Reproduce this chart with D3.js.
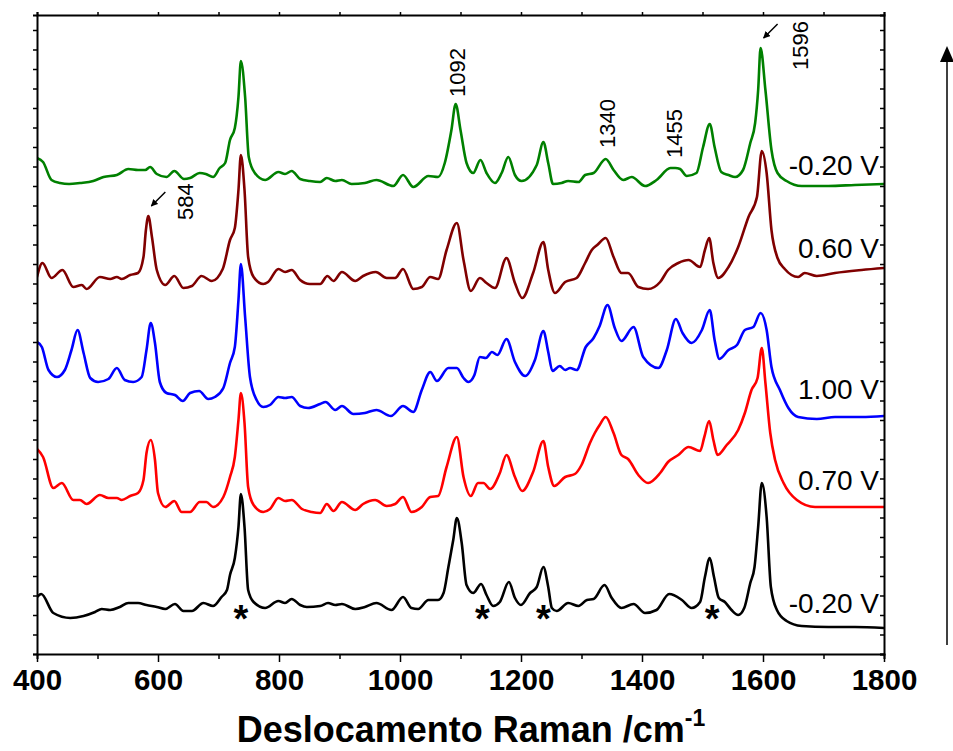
<!DOCTYPE html>
<html>
<head>
<meta charset="utf-8">
<script src="https://cdn.jsdelivr.net/npm/d3@7"></script>
<style>
  body { margin: 0; background: #fff; }
  svg { display: block; }
  text { font-family: "Liberation Sans", Arial, Helvetica, sans-serif; }
</style>
</head>
<body>
<svg id="chart" width="953" height="751"></svg>
<script>
// SERS spectra: [Raman shift (cm-1), intensity (a.u., stacking offset included)]
const specM020Low = [[400,5.7],[407,6.0],[427,4.1],[455,3.6],[477,3.8],[496,4.2],[507,4.5],[521,4.4],[537,4.7],[551,5.1],[567,5.1],[581,4.9],[598,4.7],[612,4.5],[628,5.0],[642,4.3],[656,4.3],[675,5.1],[691,4.8],[705,5.7],[714,6.4],[719,7.9],[727,9.6],[733,12.7],[737,16.0],[743,12.7],[749,6.4],[758,5.2],[777,4.6],[799,5.3],[810,5.1],[821,5.5],[835,4.9],[846,4.7],[868,4.8],[881,5.1],[893,4.9],[904,5.0],[926,4.5],[942,4.7],[961,5.1],[986,4.4],[1005,5.7],[1019,4.6],[1030,4.5],[1047,5.4],[1063,5.4],[1072,6.1],[1080,8.7],[1088,11.4],[1094,13.6],[1102,11.1],[1110,6.9],[1121,6.1],[1134,7.0],[1143,5.9],[1154,4.8],[1165,5.2],[1180,7.2],[1190,5.6],[1200,4.9],[1215,6.1],[1226,6.7],[1237,8.7],[1245,6.7],[1251,4.6],[1259,4.3],[1278,5.1],[1295,4.8],[1309,5.4],[1320,5.5],[1338,6.9],[1350,5.6],[1366,4.6],[1386,5.0],[1405,4.1],[1424,4.4],[1445,6.0],[1466,5.4],[1482,4.6],[1496,5.2],[1504,7.7],[1512,9.6],[1519,7.7],[1527,5.6],[1537,5.2],[1548,4.4],[1559,3.9],[1569,4.6],[1579,7.1],[1586,8.7],[1592,12.7],[1598,17.1],[1606,13.7],[1613,6.7],[1623,4.4],[1639,3.3],[1664,2.8],[1708,2.7],[1752,2.7],[1800,2.6]];

const spec070 = [[400,20.5],[410,19.7],[427,16.6],[441,17.1],[460,15.4],[471,15.4],[482,15.0],[504,15.9],[518,15.6],[532,15.6],[540,15.4],[554,15.8],[567,16.1],[576,17.4],[581,20.1],[588,21.4],[595,19.4],[600,16.1],[612,14.7],[627,15.3],[639,14.2],[653,14.2],[669,15.2],[680,15.2],[691,14.7],[708,15.7],[719,17.7],[727,19.7],[733,23.4],[737,26.1],[743,23.1],[749,16.7],[758,14.9],[774,14.2],[785,14.5],[799,15.6],[810,15.3],[821,15.4],[838,14.5],[854,14.2],[868,14.1],[879,15.0],[890,14.3],[904,15.2],[926,14.4],[939,15.0],[959,15.4],[978,14.8],[992,15.0],[1005,15.7],[1019,14.2],[1036,14.7],[1050,15.7],[1063,15.8],[1077,18.7],[1094,21.7],[1105,17.7],[1117,15.8],[1129,17.1],[1138,17.1],[1149,16.5],[1165,18.1],[1176,19.9],[1190,17.7],[1202,16.3],[1220,18.2],[1237,21.3],[1245,18.7],[1255,16.8],[1273,17.7],[1289,18.0],[1300,18.9],[1314,21.1],[1322,22.1],[1330,22.9],[1340,23.7],[1353,22.1],[1366,19.9],[1377,19.5],[1394,17.9],[1410,17.1],[1430,18.1],[1443,19.2],[1460,19.9],[1477,20.7],[1496,20.3],[1503,21.7],[1511,23.3],[1518,21.4],[1525,19.9],[1540,20.9],[1559,22.4],[1570,24.1],[1581,26.4],[1591,27.6],[1598,30.6],[1604,27.1],[1612,22.1],[1620,19.4],[1634,17.1],[1656,15.4],[1686,14.7],[1719,14.7],[1763,14.7],[1800,14.7]];

const spec100 = [[400,31.2],[408,30.7],[419,28.4],[433,27.7],[446,28.4],[457,30.4],[467,32.4],[477,30.1],[488,27.6],[501,27.2],[518,27.5],[532,28.6],[545,27.4],[559,27.2],[573,27.7],[581,30.4],[588,33.1],[595,31.1],[603,27.2],[614,26.1],[628,25.9],[641,25.3],[653,26.1],[668,26.3],[683,25.5],[694,25.7],[708,26.6],[719,29.1],[727,30.7],[733,35.4],[737,39.0],[744,33.7],[752,27.7],[763,25.4],[774,24.7],[785,24.9],[799,25.7],[810,25.6],[821,25.7],[835,24.8],[848,24.6],[868,25.0],[877,25.2],[893,24.4],[904,24.8],[923,24.0],[942,24.1],[961,24.4],[985,23.8],[1005,24.8],[1022,24.2],[1036,26.4],[1050,28.2],[1061,27.3],[1080,28.6],[1094,28.6],[1105,27.6],[1113,27.2],[1123,27.9],[1132,29.7],[1142,29.6],[1152,30.2],[1161,29.9],[1176,31.5],[1190,29.2],[1207,27.8],[1223,29.4],[1237,32.3],[1245,30.2],[1252,28.3],[1264,28.8],[1273,28.4],[1281,28.6],[1292,28.4],[1307,30.7],[1320,31.6],[1330,32.8],[1343,34.9],[1355,32.6],[1366,31.3],[1386,32.7],[1402,29.7],[1427,28.6],[1441,30.4],[1456,33.5],[1467,32.1],[1482,31.1],[1499,32.4],[1512,34.4],[1520,31.4],[1528,29.5],[1543,30.4],[1557,30.9],[1570,32.4],[1584,32.7],[1596,34.1],[1606,32.4],[1614,28.7],[1628,26.4],[1642,24.6],[1658,23.7],[1689,23.5],[1719,23.7],[1763,23.7],[1800,23.8]];

const spec060 = [[400,37.7],[409,39.1],[424,37.6],[442,38.4],[460,36.7],[474,36.9],[482,36.5],[504,37.7],[521,37.5],[532,37.7],[540,37.5],[554,37.9],[567,38.1],[576,39.7],[580,42.4],[584,43.8],[590,41.7],[598,38.4],[612,36.9],[627,37.8],[642,36.6],[656,36.8],[672,37.8],[689,37.3],[707,38.5],[719,41.4],[727,42.6],[733,46.4],[737,49.9],[743,46.4],[749,39.7],[758,37.7],[774,37.0],[782,37.2],[799,38.5],[810,38.2],[821,38.4],[835,37.4],[851,37.0],[868,37.0],[880,37.8],[890,37.3],[904,38.2],[926,37.3],[939,37.8],[960,38.2],[978,37.6],[992,37.6],[1005,38.5],[1022,36.5],[1036,36.7],[1050,37.7],[1063,37.5],[1077,40.4],[1094,43.1],[1105,39.4],[1117,36.3],[1132,37.6],[1143,37.1],[1157,36.6],[1176,39.6],[1190,37.1],[1202,35.6],[1220,38.1],[1237,41.2],[1245,38.4],[1256,36.1],[1273,37.2],[1292,37.6],[1306,39.1],[1317,40.4],[1326,40.9],[1340,41.6],[1353,39.7],[1366,38.1],[1377,38.1],[1394,36.7],[1410,36.5],[1430,37.2],[1443,38.4],[1460,39.1],[1477,39.4],[1496,38.7],[1504,40.4],[1511,41.6],[1518,39.1],[1526,37.6],[1543,38.7],[1559,40.7],[1576,43.7],[1590,45.7],[1598,50.3],[1606,48.1],[1614,42.4],[1624,39.6],[1636,38.5],[1658,37.7],[1669,38.1],[1689,37.8],[1719,38.1],[1763,38.4],[1800,38.6]];

const specM020High = [[400,49.6],[410,49.2],[424,47.4],[438,47.1],[453,47.0],[471,47.1],[493,47.3],[510,47.7],[532,47.9],[551,48.5],[567,48.4],[579,48.4],[587,48.7],[598,48.0],[614,47.7],[627,48.3],[643,47.5],[653,47.6],[669,48.1],[679,48.0],[691,47.7],[702,48.6],[711,49.1],[719,51.4],[727,52.6],[733,55.7],[737,59.3],[744,55.7],[750,49.7],[760,48.1],[777,47.4],[799,48.2],[810,48.0],[821,48.3],[835,47.5],[851,47.3],[868,47.2],[879,47.6],[893,47.3],[904,47.4],[920,47.0],[942,47.1],[961,47.4],[989,46.8],[1005,47.9],[1022,46.7],[1047,47.8],[1063,47.7],[1074,49.1],[1085,52.4],[1092,55.0],[1100,52.4],[1110,49.1],[1121,48.1],[1133,49.4],[1143,48.1],[1157,47.1],[1168,48.1],[1179,49.7],[1190,47.9],[1201,47.3],[1226,48.9],[1237,51.2],[1245,49.1],[1253,47.0],[1267,47.1],[1278,47.3],[1295,47.2],[1306,47.9],[1320,48.1],[1340,49.5],[1353,48.4],[1369,47.4],[1383,47.7],[1405,46.8],[1424,47.4],[1447,48.6],[1455,48.6],[1463,48.5],[1474,47.8],[1490,48.1],[1501,50.7],[1512,53.0],[1520,50.7],[1531,48.2],[1543,47.9],[1554,47.7],[1567,48.4],[1579,51.1],[1587,53.1],[1592,56.4],[1596,60.6],[1604,56.4],[1614,50.4],[1624,48.1],[1639,47.3],[1664,46.8],[1708,46.8],[1752,46.9],[1800,47.0]];

// Potential labels, bottom to top
const potentials = ["-0.20 V", "0.70 V", "1.00 V", "0.60 V", "-0.20 V"];
// Assigned band positions (cm-1) and the spectrum each one is marked on
const bandLabels = [584, 1092, 1340, 1455, 1596];
const bandSpectrum = [3, 4, 4, 4, 4];
// Bands marked with an asterisk on the lowest spectrum
const starredBands = [737, 1136, 1237, 1516];
const xTicks = [400, 600, 800, 1000, 1200, 1400, 1600, 1800];

const spectra = [specM020Low, spec070, spec100, spec060, specM020High];
const colors = ["#000000", "#ff0000", "#0000ff", "#800000", "#008000"];

const svg = d3.select("#chart");
const plotLeft = 37, plotRight = 884, plotTop = 15, plotBottom = 654;

const x = d3.scaleLinear().domain([400, 1800]).range([plotLeft, plotRight]);
const y = d3.scaleLinear().domain([0, 63.9]).range([plotBottom, plotTop]);

const defs = svg.append("defs");
defs.append("clipPath").attr("id", "plotClip")
  .append("rect").attr("x", plotLeft).attr("y", plotTop)
  .attr("width", plotRight - plotLeft).attr("height", plotBottom - plotTop);

const marker = defs.append("marker")
  .attr("id", "headSmall").attr("viewBox", "0 0 10 10")
  .attr("refX", 9).attr("refY", 5)
  .attr("markerWidth", 7).attr("markerHeight", 7)
  .attr("markerUnits", "userSpaceOnUse")
  .attr("orient", "auto");
marker.append("path").attr("d", "M0,0 L10,5 L0,10 z").attr("fill", "#000");

// Spectra
const line = d3.line()
  .x(d => x(d[0]))
  .y(d => y(d[1]))
  .curve(d3.curveMonotoneX);

svg.append("g").attr("clip-path", "url(#plotClip)")
  .selectAll("path")
  .data(spectra)
  .join("path")
  .attr("d", line)
  .attr("fill", "none")
  .attr("stroke", (d, i) => colors[i])
  .attr("stroke-width", 2.6)
  .attr("stroke-linejoin", "round")
  .attr("stroke-linecap", "round");

// Axes
const minorX = d3.range(400, 1801, 100);
const yMinor = d3.range(0, 63.9, 1.95);

const gBottom = svg.append("g").attr("transform", `translate(0,${plotBottom})`);
gBottom.call(d3.axisBottom(x).tickValues(minorX).tickSize(5).tickFormat(""));
gBottom.selectAll(".tick line").attr("y2", d => xTicks.includes(d) ? 8 : 5);
const gBottomLabels = svg.append("g").attr("transform", `translate(0,${plotBottom})`)
  .call(d3.axisBottom(x).tickValues(xTicks).tickSize(0).tickPadding(15).tickFormat(d3.format("d")));
gBottomLabels.select(".domain").remove();
gBottomLabels.selectAll("text")
  .attr("font-size", 29.5).attr("font-weight", "bold").attr("fill", "#000")
  .attr("font-family", "'Liberation Sans', Arial, sans-serif");

svg.append("g").attr("transform", `translate(0,${plotTop})`)
  .call(d3.axisTop(x).tickValues(minorX).tickSize(3).tickFormat(""));
svg.append("g").attr("transform", `translate(${plotLeft},0)`)
  .call(d3.axisLeft(y).tickValues(yMinor).tickSize(4).tickFormat(""));
svg.append("g").attr("transform", `translate(${plotRight},0)`)
  .call(d3.axisRight(y).tickValues(yMinor).tickSize(-4).tickFormat(""));

svg.selectAll(".domain").attr("stroke", "#000").attr("stroke-width", 2);
svg.selectAll(".tick line").attr("stroke", "#000").attr("stroke-width", 1.5);

// Axis title
const title = svg.append("text")
  .attr("x", 471).attr("y", 742)
  .attr("text-anchor", "middle")
  .attr("font-size", 36).attr("font-weight", "bold").attr("fill", "#000");
title.append("tspan").text("Deslocamento Raman /cm");
title.append("tspan").attr("dy", -16).attr("font-size", 23).text("-1");

// Potential labels at the right end of each spectrum
const labelBaselines = [613, 490, 399, 258, 175];
svg.append("g").selectAll("text")
  .data(potentials)
  .join("text")
  .attr("x", 879)
  .attr("y", (d, i) => labelBaselines[i])
  .attr("text-anchor", "end")
  .attr("font-size", 28)
  .attr("fill", "#000")
  .text(d => d);

// Band assignments, rotated
const bandOffsets = [[45, 4], [9, -7], [9, -11], [7, -10], [47, 22]];
const peakOf = (spec, w) => spec.reduce((a, b) => Math.abs(b[0] - w) < Math.abs(a[0] - w) ? b : a);
svg.append("g").selectAll("text")
  .data(bandLabels)
  .join("text")
  .attr("transform", (d, i) => {
    const p = peakOf(spectra[bandSpectrum[i]], d);
    return `translate(${x(p[0]) + bandOffsets[i][0]},${y(p[1]) + bandOffsets[i][1]}) rotate(-90)`;
  })
  .attr("font-size", 22)
  .attr("fill", "#000")
  .text(d => d);

// Small pointer arrows on the 584 and 1596 bands
[[584, 3], [1596, 4]].forEach(([w, s]) => {
  const p = peakOf(spectra[s], w);
  const tx = x(p[0]) + 3, ty = y(p[1]) - 10;
  svg.append("line")
    .attr("x1", tx + 14).attr("y1", ty - 14)
    .attr("x2", tx).attr("y2", ty)
    .attr("stroke", "#000").attr("stroke-width", 1.5)
    .attr("marker-end", "url(#headSmall)");
});

// Asterisks below the lowest spectrum
svg.append("g").selectAll("text")
  .data(starredBands)
  .join("text")
  .attr("x", d => x(d))
  .attr("y", y(0) - 22)
  .attr("text-anchor", "middle")
  .attr("font-size", 38)
  .attr("font-weight", "bold")
  .attr("fill", "#000")
  .text("*");

// Potential sweep arrow on the right
const ax = 947;
svg.append("line")
  .attr("x1", ax).attr("x2", ax)
  .attr("y1", 645).attr("y2", 60)
  .attr("stroke", "#000").attr("stroke-width", 1.5);
svg.append("path")
  .attr("d", `M${ax - 7},62 L${ax + 7},62 L${ax},46 Z`)
  .attr("fill", "#000");
</script>
</body>
</html>
